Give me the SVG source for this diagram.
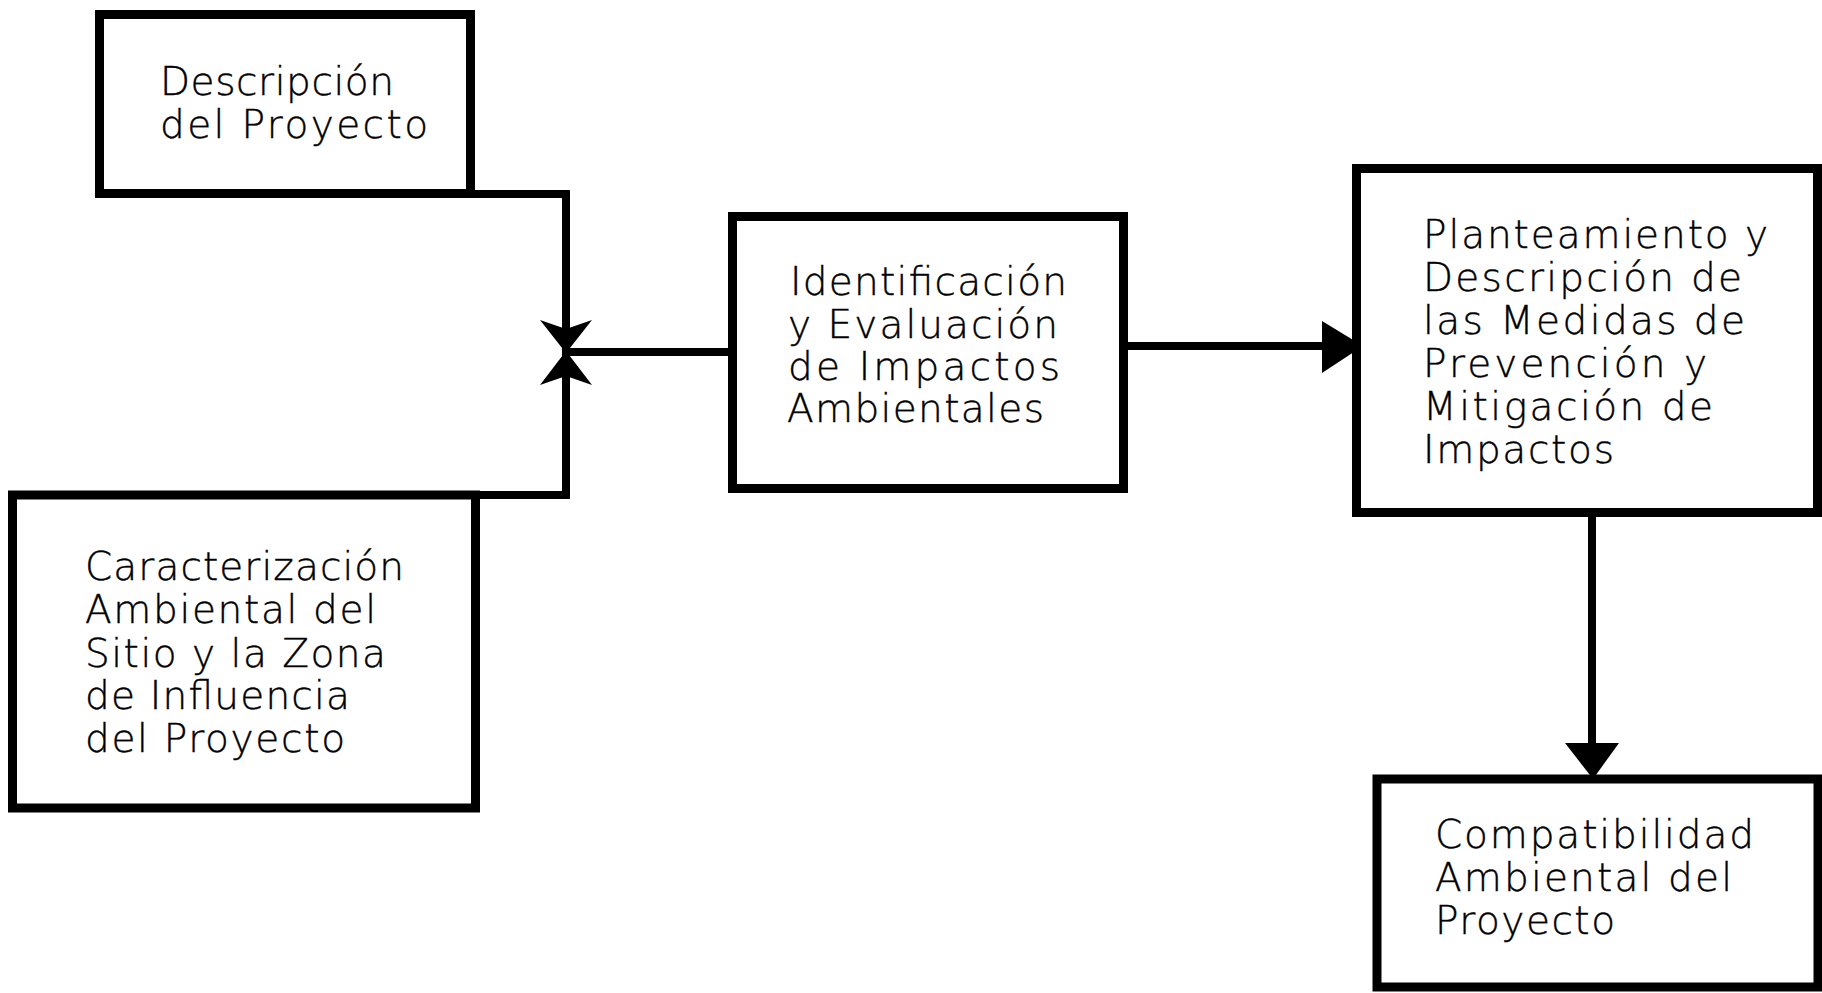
<svg xmlns="http://www.w3.org/2000/svg" width="1822" height="993" viewBox="0 0 1822 993">
  <style>
    .box { fill: #ffffff; stroke: #000000; stroke-width: 9; }
    .wire { fill: none; stroke: #000000; stroke-width: 8; stroke-linejoin: miter; stroke-linecap: butt; }
    .head { fill: #000000; stroke: none; }
    .lbl { font-family: "DejaVu Sans", "Liberation Sans", sans-serif; font-size: 39px; font-weight: 200; fill: #000000; stroke: #000000; stroke-width: 0.4; }
  </style>
  <rect width="1822" height="993" fill="#ffffff"/>

  <!-- connectors -->
  <g id="connectors">
    <!-- two sources merging into one junction -->
    <path class="wire" d="M 470 194 H 566 V 495 H 476"/>
    <path class="head" d="M 566 353 L 540 320 L 566 329 L 592 320 Z"/>
    <path class="head" d="M 566 351 L 540 385 L 566 376 L 592 385 Z"/>
    <line class="wire" x1="566" y1="352" x2="730" y2="352"/>
    <!-- identification to mitigation -->
    <line class="wire" x1="1126" y1="346" x2="1326" y2="346"/>
    <path class="head" d="M 1322 321 L 1363 346 L 1322 373 Z"/>
    <!-- mitigation to compatibility -->
    <line class="wire" x1="1592" y1="515" x2="1592" y2="746"/>
    <path class="head" d="M 1565 743 L 1619 743 L 1593 779 Z"/>
  </g>

  <g id="descripcion">
    <rect class="box" x="99.5" y="14.5" width="371" height="179"/>
    <text class="lbl">
      <tspan x="160" y="95" textLength="234" lengthAdjust="spacing">Descripción</tspan>
      <tspan x="160" y="138" textLength="268" lengthAdjust="spacing">del Proyecto</tspan>
    </text>
  </g>

  <g id="caracterizacion">
    <rect class="box" x="12.5" y="495" width="463" height="313"/>
    <text class="lbl">
      <tspan x="85" y="580" textLength="319" lengthAdjust="spacing">Caracterización</tspan>
      <tspan x="85" y="623" textLength="291" lengthAdjust="spacing">Ambiental del</tspan>
      <tspan x="85" y="667" textLength="301" lengthAdjust="spacing">Sitio y la Zona</tspan>
      <tspan x="85" y="709" textLength="265" lengthAdjust="spacing">de Influencia</tspan>
      <tspan x="85" y="752" textLength="260" lengthAdjust="spacing">del Proyecto</tspan>
    </text>
  </g>

  <g id="identificacion">
    <rect class="box" x="732.5" y="216.5" width="391" height="272"/>
    <text class="lbl">
      <tspan x="790" y="295" textLength="277" lengthAdjust="spacing">Identificación</tspan>
      <tspan x="788" y="338" textLength="270" lengthAdjust="spacing">y Evaluación</tspan>
      <tspan x="788" y="380" textLength="272" lengthAdjust="spacing">de Impactos</tspan>
      <tspan x="787" y="422" textLength="257" lengthAdjust="spacing">Ambientales</tspan>
    </text>
  </g>

  <g id="planteamiento">
    <rect class="box" x="1356.5" y="168.5" width="461" height="344"/>
    <text class="lbl">
      <tspan x="1423" y="248" textLength="345" lengthAdjust="spacing">Planteamiento y</tspan>
      <tspan x="1423" y="291" textLength="319" lengthAdjust="spacing">Descripción de</tspan>
      <tspan x="1423" y="334" textLength="322" lengthAdjust="spacing">las Medidas de</tspan>
      <tspan x="1423" y="377" textLength="284" lengthAdjust="spacing">Prevención y</tspan>
      <tspan x="1423" y="420" textLength="290" lengthAdjust="spacing">Mitigación de</tspan>
      <tspan x="1423" y="463" textLength="191" lengthAdjust="spacing">Impactos</tspan>
    </text>
  </g>

  <g id="compatibilidad">
    <rect class="box" x="1377" y="779" width="441" height="208"/>
    <text class="lbl">
      <tspan x="1435" y="848" textLength="319" lengthAdjust="spacing">Compatibilidad</tspan>
      <tspan x="1435" y="891" textLength="297" lengthAdjust="spacing">Ambiental del</tspan>
      <tspan x="1435" y="934" textLength="180" lengthAdjust="spacing">Proyecto</tspan>
    </text>
  </g>
</svg>
